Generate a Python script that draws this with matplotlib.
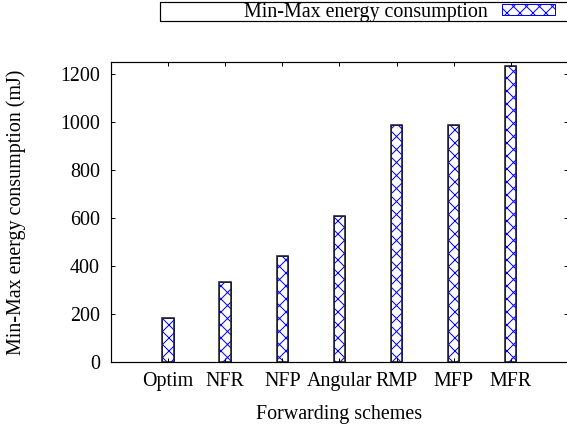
import matplotlib
matplotlib.use("Agg")
import matplotlib.pyplot as plt
from matplotlib.patches import Rectangle

# data
schemes = ["Optim", "NFR", "NFP", "Angular", "RMP", "MFP", "MFR"]
energy = [184, 332, 441, 607, 986, 986, 1233]
y_ticks = [0, 200, 400, 600, 800, 1000, 1200]

dpi = 78
px = 72.0 / dpi  # one pixel in points

plt.rcParams["font.family"] = ["Liberation Serif", "DejaVu Serif"]
plt.rcParams["font.size"] = 20 * px
plt.rcParams["hatch.linewidth"] = 1.0 * px

W, H = 567, 428
fig = plt.figure(figsize=(W / dpi, H / dpi), dpi=dpi)
ax = fig.add_axes([111 / W, 66 / H, 456.8 / W, 300 / H])

x = list(range(1, len(schemes) + 1))
bars = ax.bar(x, energy, width=0.2, color="white", edgecolor="blue",
              hatch="xx", linewidth=1.0 * px, label="Min-Max energy consumption")
ax.bar(x, energy, width=0.2, fill=False, edgecolor="#222222", linewidth=1.6 * px)

ax.set_xlim(0, 8)
ax.set_ylim(0, 1250)
ax.set_xticks(x)
ax.set_xticklabels(schemes)
ax.set_yticks(y_ticks)
ax.tick_params(direction="in", length=4 * px, width=1 * px,
               top=True, right=True)
ax.tick_params(axis="x", pad=10 * px)
ax.tick_params(axis="y", pad=11 * px)
for s in ax.spines.values():
    s.set_linewidth(1.2 * px)

ax.set_xlabel("Forwarding schemes")
ax.xaxis.set_label_coords(0.5, -0.145)
ax.set_ylabel("Min-Max energy consumption (mJ)")
ax.yaxis.set_label_coords(-0.185, 0.5)

# key box at the top, as in the gnuplot original
box_left, box_top, box_bot = 160, 2, 21
fig.patches.append(Rectangle((box_left / W, 1 - box_bot / H),
                             (W + 5 - box_left) / W, (box_bot - box_top) / H,
                             transform=fig.transFigure, fill=False,
                             edgecolor="black", linewidth=1.2 * px))
fig.legend(handles=[bars], loc="center right",
           bbox_to_anchor=(555 / W, 1 - 12 / H),
           frameon=False, markerfirst=False, borderpad=0, borderaxespad=0,
           handlelength=2.65, handleheight=0.45, handletextpad=0.7)

fig.savefig("out.png", dpi=dpi)
